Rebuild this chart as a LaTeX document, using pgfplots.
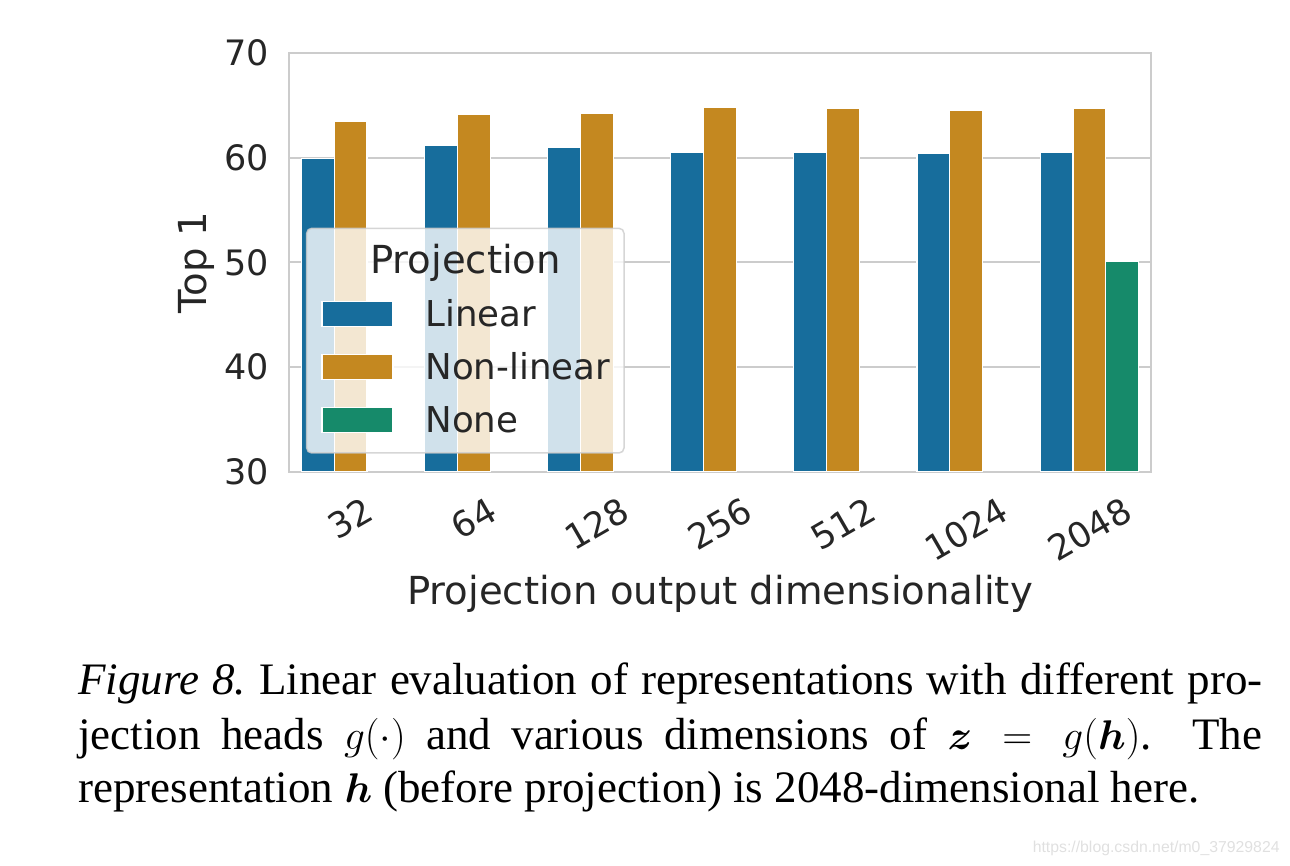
\documentclass[border=0pt]{standalone}
\usepackage{fontspec}
\setmainfont{Liberation Serif}
\newfontfamily\dejavu{DejaVu Sans}
\newfontfamily\wmfont{Liberation Sans}
\usepackage{bm}
\usepackage{graphicx}
\usepackage{pgfplots}
\pgfplotsset{compat=1.18}
\definecolor{cblue}{HTML}{176D9C}
\definecolor{corange}{HTML}{C48820}
\definecolor{cgreen}{HTML}{168A6A}
\definecolor{gridgray}{HTML}{CCCCCC}
\definecolor{txt}{HTML}{262626}

\begin{document}
\begin{tikzpicture}
\useasboundingbox (0,0) rectangle (645pt,433pt);
\begin{axis}[
  at={(144.5pt,197pt)}, anchor=south west,
  scale only axis, width=431pt, height=209.5pt,
  xmin=-0.5, xmax=6.5, ymin=30, ymax=70,
  ybar, bar width=0.2667,
  xtick={0,1,2,3,4,5,6},
  xticklabels={\rotatebox{30}{32},\rotatebox{30}{64},\rotatebox{30}{128},\rotatebox{30}{256},\rotatebox{30}{512},\rotatebox{30}{1024},\rotatebox{30}{2048}},
  ytick={30,40,50,60,70},
  yticklabels={30,40,50,60,70},
  major tick length=0,
  axis line style={gridgray, line width=1pt},
  ymajorgrids, grid style={gridgray, line width=1pt},
  xticklabel style={anchor=north, inner sep=0pt, yshift=-11.5pt, font=\dejavu\fontsize{17.5}{21}\selectfont, text=txt},
  yticklabel style={anchor=east, inner sep=0pt, xshift=-10pt, font=\dejavu\fontsize{17.5}{21}\selectfont, text=txt},
  xlabel={Projection output dimensionality},
  ylabel={Top 1},
  xlabel style={at={(rel axis cs:0.5,-0.3174)}, anchor=base, inner sep=0pt, font=\dejavu\fontsize{19.3}{23}\selectfont, text=txt},
  ylabel style={at={(rel axis cs:-0.1079,0.5)}, anchor=center, inner sep=0pt, font=\dejavu\fontsize{19.3}{23}\selectfont, text=txt},
]
\addplot[fill=cblue, draw=white, line width=0.6pt, bar shift=-0.2667] coordinates {
  (0,59.9) (1,61.2) (2,61.0) (3,60.5) (4,60.5) (5,60.4) (6,60.5)};
\addplot[fill=corange, draw=white, line width=0.6pt, bar shift=0] coordinates {
  (0,63.5) (1,64.1) (2,64.2) (3,64.8) (4,64.7) (5,64.5) (6,64.7)};
\addplot[fill=cgreen, draw=white, line width=0.6pt, bar shift=0.2667] coordinates {
  (6,50.1)};
\end{axis}
% legend
\fill[white, fill opacity=0.8, rounded corners=2.5pt] (153.35pt,206.5pt) rectangle (312pt,318.85pt);
\draw[gridgray, draw opacity=0.8, line width=0.75pt, rounded corners=2.5pt] (153.35pt,206.5pt) rectangle (312pt,318.85pt);
\node[anchor=base, inner sep=0pt, font=\dejavu\fontsize{19.3}{23}\selectfont, text=txt] at (232.75pt,296.3pt) {Projection};
\filldraw[fill=cblue, draw=white, line width=0.6pt] (161pt,269.75pt) rectangle (196.5pt,282.25pt);
\filldraw[fill=corange, draw=white, line width=0.6pt] (161pt,243.25pt) rectangle (196.5pt,255.75pt);
\filldraw[fill=cgreen, draw=white, line width=0.6pt] (161pt,216.75pt) rectangle (196.5pt,229.25pt);
\node[anchor=base west, inner sep=0pt, font=\dejavu\fontsize{17.8}{21}\selectfont, text=txt] at (212.5pt,269.5pt) {Linear};
\node[anchor=base west, inner sep=0pt, font=\dejavu\fontsize{17.8}{21}\selectfont, text=txt] at (212.5pt,243pt) {Non-linear};
\node[anchor=base west, inner sep=0pt, font=\dejavu\fontsize{17.8}{21}\selectfont, text=txt] at (212.5pt,216.5pt) {None};
% caption
\node[anchor=base west, inner sep=0pt, font=\fontsize{22.5}{27}\selectfont] at (39pt,85.5pt)
  {\frenchspacing\hbox to 592pt{\textit{Figure 8.}\ Linear evaluation of representations with different pro-}};
\node[anchor=base west, inner sep=0pt, font=\fontsize{22.5}{27}\selectfont] at (39pt,58pt)
  {\hbox to 592pt{jection heads $g(\cdot)$ and various dimensions of $\bm{z} = g(\bm{h})$.\ \ The}};
\node[anchor=base west, inner sep=0pt, font=\fontsize{22.5}{27}\selectfont] at (39pt,31.5pt)
  {representation $\bm{h}$ (before projection) is 2048-dimensional here.};
% watermark
\node[anchor=base east, inner sep=0pt, font=\wmfont\fontsize{7.9}{9}\selectfont, text=black!12] at (640pt,6.5pt)
  {https://blog.csdn.net/m0\_37929824};
\end{tikzpicture}
\end{document}
